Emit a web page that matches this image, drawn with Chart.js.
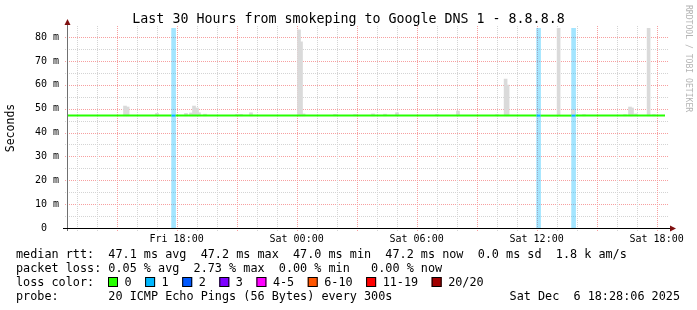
<!DOCTYPE html>
<html>
<head>
  <title>Last 30 Hours from smokeping to Google DNS 1 - 8.8.8.8</title>
  <style>
    body { margin: 0; background: #fff; }
    #wrap { width: 697px; height: 310px; }
  </style>
  <script src="https://cdn.jsdelivr.net/npm/chart.js"></script>
</head>
<body>
  <div id="wrap"><canvas id="smoke" width="697" height="310"></canvas></div>
  <script>
    // time axis is in hours counted from Fri 12:00
    const tickHours = [6, 12, 18, 24, 30];
    const tickLabels = ['Fri 18:00', 'Sat 00:00', 'Sat 06:00', 'Sat 12:00', 'Sat 18:00'];
    const yLabelValues = [0, 10, 20, 30, 40, 50, 60, 70, 80];

    // smoke (gray spikes above the median), ms
    const smokeTimes = [3.42, 3.55, 5.02, 6.47, 6.72, 6.87, 7.02, 7.12, 7.42, 9.02, 9.22, 9.72,
      12.12, 12.22, 12.35, 13.92, 14.92, 15.82, 16.42, 17.02, 19.02, 20.07, 22.02, 22.45, 22.55,
      25.1, 25.82, 26.37, 28.42, 28.67, 28.77, 28.97, 29.6, 29.87];
    const smokeTops = [51.1, 50.7, 48.0, 48.0, 48.2, 51.1, 50.3, 48.3, 47.7, 47.6, 47.6, 48.3,
      83.0, 78.0, 47.8, 47.6, 47.5, 47.8, 47.7, 48.3, 47.6, 49.0, 47.5, 62.4, 59.9,
      83.8, 49.4, 47.5, 47.5, 50.7, 50.3, 47.8, 83.8, 47.5];
    const smokeLow = 47.0;

    // bins with one lost ping
    const lossTimes = [5.85, 24.1, 25.85];

    // median rtt and loss class per segment
    const medianTimes = [0.52, 5.75, 5.95, 24.0, 24.2, 25.75, 25.95, 30.42];
    const medianValues = [47.1, 47.1, 47.1, 47.1, 47.1, 47.1, 47.1, 47.1];
    const medianLoss = [0, 1, 0, 1, 0, 1, 0, 0];

    const lossColors = ['#26ff00', '#00b8ff', '#0059ff', '#7e00ff', '#ff00ff', '#ff5500', '#ff0000', '#a10000'];
    const lossLabels = ['0', '1', '2', '3', '4-5', '6-10', '11-19', '20/20'];

    const X_MIN = 0.52, X_MAX = 30.52, Y_MAX = 83.8;
    const MONO = "'DejaVu Sans Mono', monospace";
    const GRID_MINOR = '#d4d4d4';
    const GRID_MAJOR = '#f7a0a0';

    // draws a 1px dotted line pixel by pixel (1 on, 1 off) so dots stay crisp
    function dotted(ctx, x0, y0, x1, y1) {
      if (y0 === y1) {
        for (let px = x0; px <= x1; px += 2) ctx.fillRect(px, y0, 1, 1);
      } else {
        for (let py = y0; py <= y1; py += 2) ctx.fillRect(x0, py, 1, 1);
      }
    }

    const rrdPlugin = {
      id: 'rrd',
      beforeDatasetsDraw(chart) {
        const { ctx, chartArea: a, scales: { x, y } } = chart;
        const top = Math.round(a.top), bottom = Math.round(a.bottom);
        const left = Math.round(a.left), right = Math.round(a.right);
        ctx.save();
        for (let v = 5; v <= 80; v += 5) {
          const py = Math.round(y.getPixelForValue(v));
          ctx.fillStyle = v % 10 ? GRID_MINOR : GRID_MAJOR;
          dotted(ctx, left - 2, py, right + 1, py);
        }
        for (let h = 1; h <= 30; h++) {
          const px = Math.round(x.getPixelForValue(h));
          ctx.fillStyle = h % 3 ? GRID_MINOR : GRID_MAJOR;
          dotted(ctx, px, top - 2, px, bottom + 3);
        }
        ctx.restore();
      },
      afterDatasetsDraw(chart) {
        const { ctx, chartArea: a } = chart;
        ctx.save();
        // y axis
        ctx.strokeStyle = '#707070';
        ctx.lineWidth = 1;
        ctx.beginPath(); ctx.moveTo(a.left + 0.5, a.bottom + 3); ctx.lineTo(a.left + 0.5, a.top - 4); ctx.stroke();
        // x axis
        ctx.strokeStyle = '#000';
        ctx.beginPath(); ctx.moveTo(a.left - 4, a.bottom + 0.5); ctx.lineTo(a.right + 4, a.bottom + 0.5); ctx.stroke();
        // arrows
        ctx.fillStyle = '#7f1010';
        ctx.beginPath();
        ctx.moveTo(a.left + 0.5, a.top - 9); ctx.lineTo(a.left - 2.5, a.top - 3); ctx.lineTo(a.left + 3.5, a.top - 3);
        ctx.closePath(); ctx.fill();
        ctx.beginPath();
        ctx.moveTo(a.right + 9, a.bottom + 0.5); ctx.lineTo(a.right + 3, a.bottom - 2.5); ctx.lineTo(a.right + 3, a.bottom + 3.5);
        ctx.closePath(); ctx.fill();
        ctx.restore();
      },
      afterDraw(chart) {
        const { ctx } = chart;
        ctx.save();
        ctx.fillStyle = '#000';
        ctx.textBaseline = 'alphabetic';
        ctx.font = '13.3px ' + MONO;
        ctx.textAlign = 'center';
        ctx.fillText('Last 30 Hours from smokeping to Google DNS 1 - 8.8.8.8', 348.5, 23);

        ctx.textAlign = 'left';
        ctx.font = '11.8px ' + MONO;
        const cw = ctx.measureText('0').width;
        ctx.fillText('median rtt:  47.1 ms avg  47.2 ms max  47.0 ms min  47.2 ms now  0.0 ms sd  1.8 k am/s', 16, 258);
        ctx.fillText('packet loss: 0.05 % avg  2.73 % max  0.00 % min   0.00 % now', 16, 272);
        ctx.fillText('loss color:', 16, 286);
        let bx = 108;
        lossLabels.forEach((lab, i) => {
          ctx.fillStyle = lossColors[i];
          ctx.fillRect(bx, 277, 10, 10);
          ctx.strokeStyle = '#000';
          ctx.lineWidth = 1;
          ctx.strokeRect(bx + 0.5, 277.5, 9, 9);
          ctx.fillStyle = '#000';
          ctx.fillText(lab, bx + 16.5, 286);
          bx += 16.5 + lab.length * cw + 13.5;
        });
        ctx.fillText('probe:       20 ICMP Echo Pings (56 Bytes) every 300s', 16, 300);
        ctx.textAlign = 'right';
        ctx.fillText('Sat Dec  6 18:28:06 2025', 680, 300);

        // watermark
        ctx.translate(688, 5);
        ctx.rotate(Math.PI / 2);
        ctx.textAlign = 'left';
        ctx.textBaseline = 'middle';
        ctx.font = '8.1px ' + MONO;
        ctx.fillStyle = '#b4b4b4';
        ctx.fillText('RRDTOOL / TOBI OETIKER', 0, 0);
        ctx.restore();
      }
    };

    new Chart(document.getElementById('smoke'), {
      data: {
        datasets: [
          {
            type: 'bar',
            label: 'loss',
            data: lossTimes.map(t => ({ x: t, y: [0, Y_MAX] })),
            backgroundColor: 'rgba(0, 184, 255, 0.36)',
            barThickness: 4,
            grouped: false,
            order: 3
          },
          {
            type: 'bar',
            label: 'smoke',
            data: smokeTimes.map((t, i) => ({ x: t, y: [smokeLow, smokeTops[i]] })),
            backgroundColor: '#dadada',
            barThickness: 3,
            grouped: false,
            order: 2
          },
          {
            type: 'line',
            label: 'median rtt',
            data: medianTimes.map((t, i) => ({ x: t, y: medianValues[i] })),
            borderWidth: 2,
            pointRadius: 0,
            borderColor: lossColors[0],
            segment: { borderColor: c => lossColors[medianLoss[c.p0DataIndex]] },
            order: 1
          }
        ]
      },
      options: {
        responsive: false,
        animation: false,
        layout: { padding: { left: 0, right: 30, top: 28, bottom: 56 } },
        plugins: { legend: { display: false }, tooltip: { enabled: false } },
        scales: {
          x: {
            type: 'linear',
            min: X_MIN,
            max: X_MAX,
            offset: false,
            grid: { display: false, drawTicks: false },
            border: { display: false },
            afterBuildTicks: s => { s.ticks = tickHours.map(v => ({ value: v })); },
            afterFit: s => { s.height = 26; },
            ticks: {
              autoSkip: false,
              maxRotation: 0,
              padding: 5,
              color: '#000',
              font: { family: MONO, size: 10 },
              callback: v => tickLabels[tickHours.indexOf(v)]
            }
          },
          y: {
            min: 0,
            max: Y_MAX,
            grid: { display: false, drawTicks: false },
            border: { display: false },
            afterBuildTicks: s => { s.ticks = yLabelValues.map(v => ({ value: v })); },
            afterFit: s => { s.width = 67; },
            title: {
              display: true,
              text: 'Seconds',
              color: '#000',
              font: { family: MONO, size: 11.5 },
              padding: { top: 4, bottom: 0 }
            },
            ticks: {
              autoSkip: false,
              padding: 8,
              color: '#000',
              font: { family: MONO, size: 10 },
              callback: v => v === 0 ? '0  ' : v + ' m'
            }
          }
        }
      },
      plugins: [rrdPlugin]
    });
  </script>
</body>
</html>
